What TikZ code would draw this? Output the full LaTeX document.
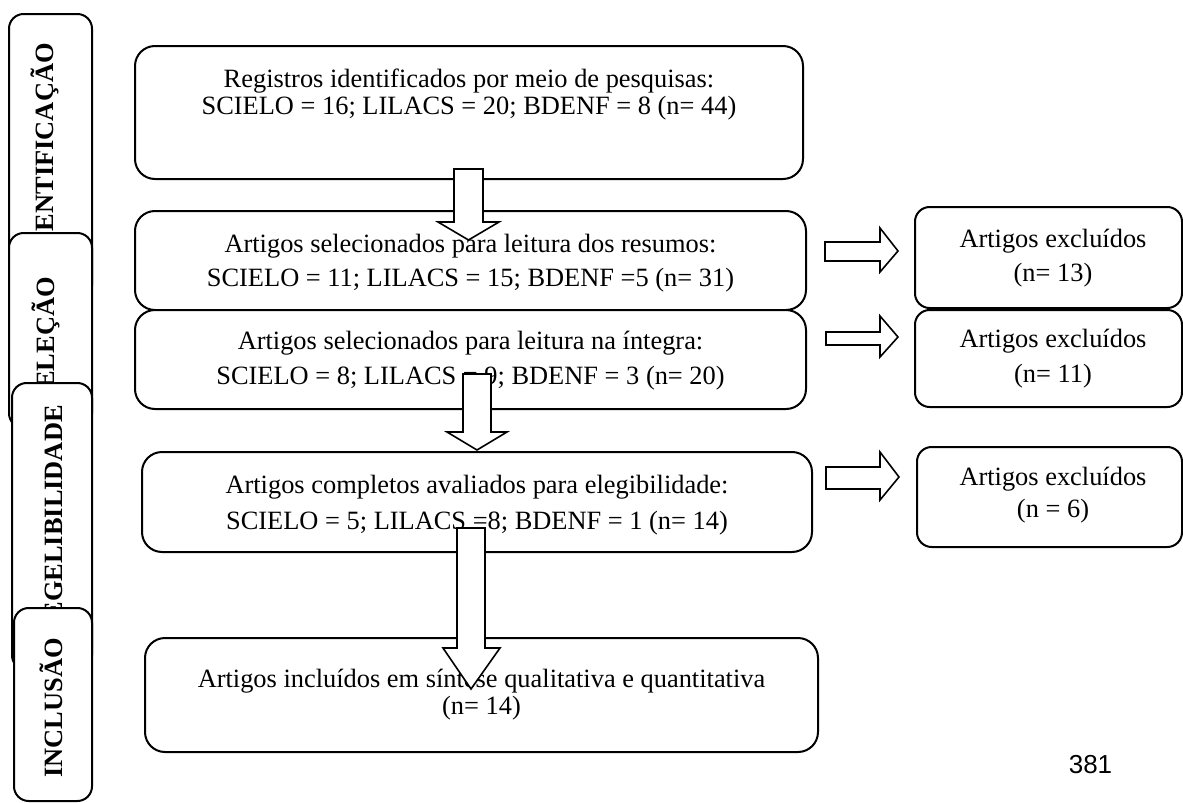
\documentclass[tikz,border=0pt]{standalone}
\usepackage{fontspec}
\setmainfont{Liberation Serif}
\newfontfamily\pagenumfont{Liberation Sans}
\begin{document}
\begin{tikzpicture}[x=0.75pt,y=-0.75pt,
  sidebox/.style={draw, line width=1.5pt, rounded corners=11pt, fill=white, inner sep=0pt},
  mainbox/.style={draw, line width=1.5pt, rounded corners=15pt, fill=white, inner sep=0pt},
  exbox/.style={draw, line width=1.5pt, rounded corners=11pt, fill=white, inner sep=0pt},
  sidetxt/.style={font=\fontsize{19.8}{20}\selectfont\bfseries, inner sep=0pt, rotate=90, anchor=base east},
  txt/.style={font=\fontsize{19.8}{20}\selectfont, inner sep=0pt, anchor=base},
  hollow/.style={draw, line width=1.2pt, fill=white, line join=miter}]
\useasboundingbox (0,0) rectangle (1183,803);
\fill[white] (0,0) rectangle (1183,803);

% left stage labels
\node[sidebox, minimum width=62.25pt, minimum height=214.5pt] (L1) at (50.5,157) {};
\node[sidetxt] (T1) at (53,43) {IDENTIFICAÇÃO};
\node[sidebox, minimum width=62.25pt, minimum height=146.25pt] (L2) at (50.5,330.5) {};
\node[sidetxt] (T2) at (55,277) {SELEÇÃO};
\node[sidebox, minimum width=60pt, minimum height=215.25pt] (L3) at (52,526.5) {};
\node[sidetxt] (T3) at (62,405) {EGELIBILIDADE};
\node[sidebox, minimum width=58.5pt, minimum height=144.75pt] (L4) at (53,704.5) {};
\node[sidetxt] (T4) at (62,638) {INCLUSÃO};

% main boxes
\node[mainbox, minimum width=501pt, minimum height=99.75pt] (A) at (469,112.5) {};
\node[mainbox, minimum width=503.25pt, minimum height=74.25pt] (B) at (470.5,260.5) {};
\node[mainbox, minimum width=503.25pt, minimum height=74.25pt] (C) at (470.5,359.5) {};
\node[mainbox, minimum width=502.5pt, minimum height=75pt] (D) at (477,502) {};
\node[mainbox, minimum width=504.75pt, minimum height=85.5pt] (E) at (481.5,695) {};

% excluded boxes
\node[exbox, minimum width=200.25pt, minimum height=75.75pt] (R1) at (1048.5,257.5) {};
\node[exbox, minimum width=200.25pt, minimum height=72.75pt] (R2) at (1048.5,358.5) {};
\node[exbox, minimum width=198.75pt, minimum height=75pt] (R3) at (1049.5,497) {};

% texts
\node[txt] (A1) at (469,87) {Registros identificados por meio de pesquisas:};
\node[txt] (A2) at (469,114) {SCIELO = 16; LILACS = 20; BDENF = 8 (n= 44)};
\node[txt] (B1) at (470.5,252) {Artigos selecionados para leitura dos resumos:};
\node[txt] (B2) at (470.5,286) {SCIELO = 11; LILACS = 15; BDENF =5 (n= 31)};
\node[txt] (C1) at (470.5,349) {Artigos selecionados para leitura na íntegra:};
\node[txt] (C2) at (470.5,384) {SCIELO = 8; LILACS = 9; BDENF = 3 (n= 20)};
\node[txt] (D1) at (477,493) {Artigos completos avaliados para elegibilidade:};
\node[txt] (D2) at (477,529) {SCIELO = 5; LILACS =8; BDENF = 1 (n= 14)};
\node[txt] (E1) at (481.5,687) {Artigos incluídos em síntese qualitativa e quantitativa};
\node[txt] (E2) at (481.5,714) {(n= 14)};
\node[txt] (R1a) at (1053,247) {Artigos excluídos};
\node[txt] (R1b) at (1053,281) {(n= 13)};
\node[txt] (R2a) at (1053,347) {Artigos excluídos};
\node[txt] (R2b) at (1053,382) {(n= 11)};
\node[txt] (R3a) at (1053,485) {Artigos excluídos};
\node[txt] (R3b) at (1053,517) {(n = 6)};

% down block arrows
\draw[hollow] (454,169) -- (483,169) -- (483,222) -- (499,222) -- (468.5,240) -- (438,222) -- (454,222) -- cycle;
\draw[hollow] (463,374) -- (491,374) -- (491,432) -- (507,432) -- (477,450) -- (447,432) -- (463,432) -- cycle;
\draw[hollow] (457,528) -- (485,528) -- (485,648) -- (500,648) -- (471,689) -- (443,648) -- (457,648) -- cycle;

% right block arrows
\draw[hollow] (825,242) -- (880,242) -- (880,228) -- (898,251) -- (880,272) -- (880,261) -- (825,261) -- cycle;
\draw[hollow] (826,332) -- (880,332) -- (880,316) -- (898,337) -- (880,357) -- (880,345) -- (826,345) -- cycle;
\draw[hollow] (826,467) -- (880,467) -- (880,452) -- (899,477) -- (880,500) -- (880,489) -- (826,489) -- cycle;

% page number
\node[font=\fontsize{19.5}{20}\selectfont\pagenumfont, inner sep=0pt, anchor=base] (pg) at (1090.5,773) {381};
\end{tikzpicture}
\end{document}
